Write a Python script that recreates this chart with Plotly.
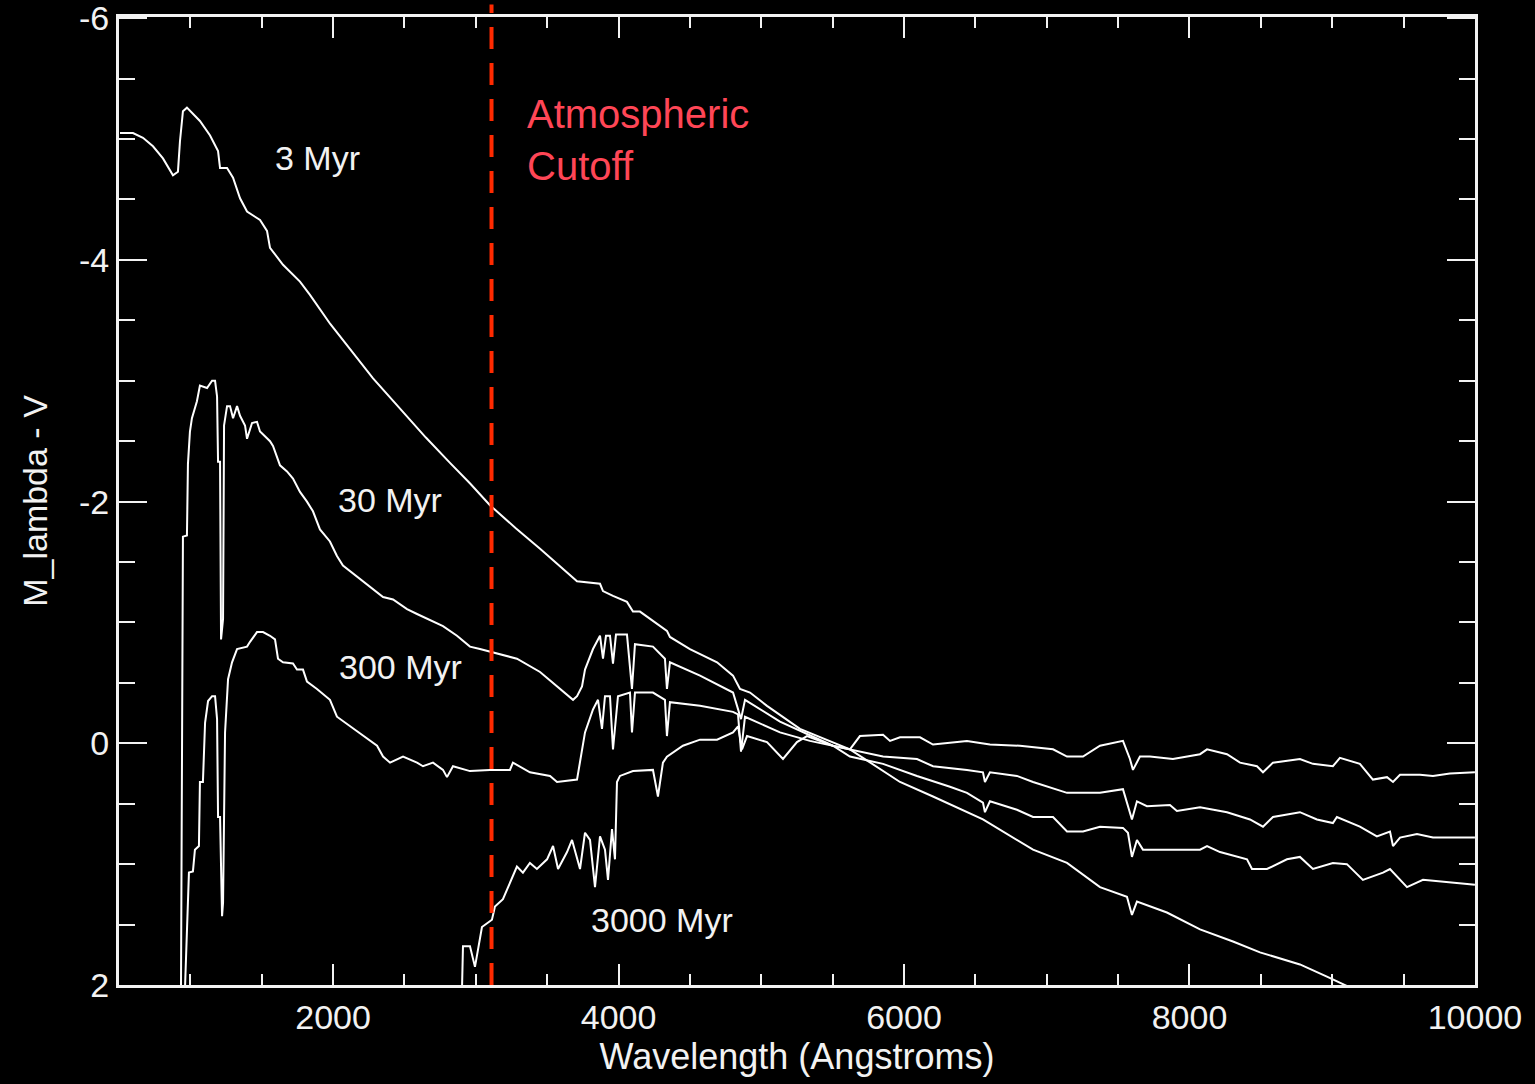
import plotly.graph_objects as go

# Wavelength grids (Angstroms) and M_lambda - V for each population age
wave_3myr = [507, 598, 668, 738, 808, 878, 913, 927, 948, 976, 1067, 1138, 1194, 1208, 1257,
             1299, 1348, 1397, 1488, 1537, 1558, 1579, 1649, 1768, 1838, 1980, 2118, 2280, 2469,
             2650, 2819, 2960, 3099, 3280, 3450, 3709, 3870, 3891, 3961, 4059, 4101, 4150, 4339,
             4360, 4500, 4690, 4802, 4851, 4921, 5040, 5271, 5460, 5621, 5972, 6203, 6553, 6904,
             7142, 7373, 7562, 7597, 7632, 7842, 8074, 8305, 8494, 8774, 8963, 9124]
mag_3myr = [-5.05, -5.05, -5.01, -4.94, -4.84, -4.70, -4.73, -4.98, -5.23, -5.26, -5.15, -5.03,
            -4.90, -4.76, -4.76, -4.68, -4.51, -4.40, -4.33, -4.24, -4.10, -4.07, -3.96, -3.82,
            -3.71, -3.47, -3.26, -3.02, -2.77, -2.53, -2.32, -2.15, -1.97, -1.78, -1.61, -1.34,
            -1.32, -1.26, -1.22, -1.17, -1.09, -1.09, -0.93, -0.88, -0.78, -0.67, -0.56, -0.45,
            -0.42, -0.31, -0.12, -0.03, 0.05, 0.32, 0.44, 0.63, 0.88, 0.99, 1.19, 1.27, 1.42,
            1.31, 1.40, 1.54, 1.64, 1.73, 1.83, 1.93, 2.02]

wave_30myr = [934, 941, 948, 976, 983, 997, 1011, 1046, 1067, 1117, 1152, 1173, 1187, 1194, 1208,
              1215, 1229, 1236, 1257, 1278, 1299, 1327, 1348, 1383, 1397, 1432, 1467, 1488, 1558,
              1579, 1628, 1677, 1719, 1768, 1817, 1859, 1908, 1978, 2027, 2069, 2188, 2280, 2350,
              2420, 2518, 2588, 2700, 2770, 2868, 2959, 3029, 3169, 3288, 3450, 3569, 3681, 3709,
              3744, 3765, 3821, 3870, 3891, 3912, 3940, 3961, 3982, 4059, 4094, 4115, 4241, 4325,
              4339, 4360, 4571, 4802, 4858, 4886, 5131, 5502, 5621, 5853, 6091, 6322, 6441, 6553,
              6567, 6602, 6791, 6904, 7044, 7142, 7254, 7373, 7534, 7569, 7597, 7632, 7674, 7842,
              8074, 8123, 8214, 8403, 8438, 8543, 8683, 8774, 8865, 9005, 9103, 9215, 9356, 9405,
              9524, 9636, 9846, 10000]
mag_30myr = [2.12, -0.36, -1.71, -1.72, -2.31, -2.58, -2.69, -2.83, -2.96, -2.94, -3.00, -3.00,
             -2.87, -2.33, -2.33, -0.86, -1.03, -2.63, -2.79, -2.79, -2.69, -2.79, -2.71, -2.63,
             -2.52, -2.65, -2.66, -2.58, -2.50, -2.46, -2.30, -2.25, -2.19, -2.08, -2.00, -1.92,
             -1.77, -1.67, -1.55, -1.47, -1.36, -1.28, -1.21, -1.19, -1.11, -1.07, -1.01, -0.97,
             -0.89, -0.80, -0.78, -0.74, -0.70, -0.59, -0.47, -0.36, -0.39, -0.47, -0.61, -0.78,
             -0.89, -0.70, -0.89, -0.89, -0.66, -0.90, -0.90, -0.45, -0.82, -0.80, -0.70, -0.45,
             -0.67, -0.56, -0.42, -0.20, -0.36, -0.18, 0.02, 0.11, 0.17, 0.27, 0.36, 0.41, 0.49,
             0.57, 0.48, 0.55, 0.61, 0.61, 0.73, 0.73, 0.69, 0.70, 0.74, 0.94, 0.80, 0.88, 0.88,
             0.88, 0.85, 0.90, 0.96, 1.04, 1.04, 0.96, 0.94, 1.04, 0.99, 1.00, 1.13, 1.07, 1.04,
             1.19, 1.13, 1.15, 1.17]

wave_300myr = [962, 969, 990, 1018, 1032, 1060, 1067, 1088, 1103, 1124, 1152, 1173, 1187, 1194,
               1208, 1222, 1229, 1243, 1264, 1292, 1327, 1397, 1418, 1467, 1509, 1558, 1593, 1614,
               1649, 1719, 1747, 1789, 1817, 1887, 1978, 2027, 2118, 2209, 2308, 2350, 2399, 2490,
               2588, 2630, 2700, 2770, 2798, 2840, 2959, 3099, 3239, 3260, 3379, 3520, 3569, 3709,
               3744, 3765, 3821, 3856, 3884, 3905, 3940, 3961, 3996, 4080, 4094, 4115, 4241, 4325,
               4339, 4360, 4571, 4802, 4837, 4858, 4886, 5131, 5341, 5502, 5621, 5853, 6091, 6203,
               6441, 6553, 6567, 6602, 6791, 6904, 7142, 7373, 7534, 7597, 7632, 7702, 7863, 7912,
               8074, 8263, 8424, 8515, 8585, 8683, 8774, 8893, 9005, 9033, 9194, 9313, 9405, 9426,
               9475, 9594, 9706, 10000]
mag_300myr = [2.04, 1.79, 1.07, 1.06, 0.88, 0.85, 0.32, 0.32, -0.17, -0.35, -0.39, -0.39, -0.20,
              0.61, 0.61, 1.43, 1.32, -0.09, -0.53, -0.67, -0.78, -0.80, -0.84, -0.92, -0.92,
              -0.89, -0.86, -0.70, -0.67, -0.66, -0.61, -0.61, -0.51, -0.45, -0.36, -0.22, -0.14,
              -0.06, 0.02, 0.11, 0.16, 0.11, 0.16, 0.19, 0.16, 0.22, 0.28, 0.19, 0.23, 0.22, 0.22,
              0.16, 0.24, 0.27, 0.32, 0.30, 0.05, -0.09, -0.28, -0.36, -0.12, -0.39, -0.39, 0.05,
              -0.39, -0.42, -0.09, -0.42, -0.42, -0.36, -0.06, -0.34, -0.31, -0.26, -0.24, 0.07,
              -0.22, -0.09, -0.02, 0.02, 0.05, 0.11, 0.13, 0.19, 0.22, 0.24, 0.32, 0.24, 0.27,
              0.32, 0.41, 0.41, 0.38, 0.63, 0.48, 0.52, 0.51, 0.56, 0.53, 0.57, 0.63, 0.69, 0.61,
              0.59, 0.57, 0.63, 0.66, 0.61, 0.69, 0.77, 0.73, 0.85, 0.78, 0.75, 0.78, 0.78]

wave_3000myr = [2903, 2910, 2959, 2994, 3015, 3043, 3113, 3134, 3190, 3239, 3288, 3330, 3379,
                3428, 3499, 3541, 3576, 3639, 3674, 3730, 3765, 3800, 3835, 3870, 3905, 3926,
                3954, 3975, 3989, 4010, 4101, 4241, 4276, 4311, 4339, 4451, 4571, 4690, 4802,
                4837, 4865, 4900, 5040, 5152, 5250, 5320, 5502, 5621, 5691, 5853, 5902, 5972,
                6112, 6203, 6441, 6602, 6812, 7044, 7142, 7254, 7373, 7534, 7583, 7604, 7653,
                7723, 7884, 8074, 8123, 8263, 8354, 8473, 8515, 8585, 8774, 8865, 9005, 9054,
                9194, 9285, 9384, 9426, 9475, 9615, 9706, 9825, 10000]
mag_3000myr = [2.04, 1.68, 1.68, 1.85, 1.71, 1.52, 1.46, 1.35, 1.29, 1.15, 1.02, 1.07, 0.99,
               1.04, 0.96, 0.85, 1.04, 0.90, 0.80, 1.04, 0.74, 0.80, 1.19, 0.77, 0.88, 1.13,
               0.71, 0.96, 0.32, 0.27, 0.23, 0.22, 0.44, 0.16, 0.11, 0.02, -0.03, -0.03, -0.09,
               -0.14, 0.05, -0.06, -0.01, 0.13, -0.01, -0.06, 0.02, 0.05, -0.06, -0.07, -0.02,
               -0.05, -0.05, 0.01, -0.02, 0.01, 0.02, 0.05, 0.11, 0.11, 0.02, -0.02, 0.13, 0.22,
               0.11, 0.11, 0.13, 0.09, 0.05, 0.09, 0.16, 0.19, 0.24, 0.16, 0.13, 0.17, 0.19, 0.12,
               0.17, 0.30, 0.28, 0.32, 0.26, 0.26, 0.27, 0.25, 0.24]

age_labels = ["3 Myr", "30 Myr", "300 Myr", "3000 Myr"]
label_wave = [1894, 2399, 2469, 4304]
label_mag = [-4.84, -2.01, -0.63, 1.46]

cutoff_wave = 3110
x_ticks = [2000, 4000, 6000, 8000, 10000]
x_tick_text = ["2000", "4000", "6000", "8000", "10000"]
y_ticks = [-6, -4, -2, 0, 2]
y_tick_text = ["-6", "-4", "-2", "0", "2"]

axis_font = "Liberation Sans, Arial, sans-serif"
fg = "#f2f2f2"

fig = go.Figure()
for w, m in [(wave_3myr, mag_3myr), (wave_30myr, mag_30myr),
             (wave_300myr, mag_300myr), (wave_3000myr, mag_3000myr)]:
    fig.add_trace(go.Scatter(x=w, y=m, mode="lines",
                             line=dict(color="white", width=2), hoverinfo="skip"))

for txt, xv, yv in zip(age_labels, label_wave, label_mag):
    fig.add_annotation(x=xv, y=yv, text=txt, showarrow=False,
                       font=dict(family=axis_font, size=34, color=fg))

# Atmospheric cutoff marker
fig.add_shape(type="line", xref="x", yref="paper", x0=cutoff_wave, x1=cutoff_wave,
              y0=0, y1=1.013, line=dict(color="#ff2a00", width=4, dash="22px,14px"))
fig.add_annotation(x=3345, y=-4.99, xanchor="left", yanchor="middle", align="left",
                   text="Atmospheric<br>Cutoff", showarrow=False,
                   font=dict(family="Liberation Sans, Arial, sans-serif", size=40,
                             color="#ff4656"))

fig.update_xaxes(range=[500, 10000.5], tickvals=x_ticks, ticktext=x_tick_text,
                 ticks="inside", ticklen=21, ticklabeloverflow="allow", automargin=False,
                 tickwidth=2, tickcolor=fg, showline=True, linecolor=fg, linewidth=3,
                 mirror="ticks", showgrid=False, zeroline=False,
                 minor=dict(dtick=500, ticks="inside", ticklen=11, tickwidth=2,
                            tickcolor=fg, showgrid=False),
                 tickfont=dict(family=axis_font, size=34, color=fg),
                 title=dict(text="Wavelength (Angstroms)", standoff=4,
                            font=dict(family=axis_font, size=36, color=fg)))
fig.update_yaxes(range=[2, -6.01], tickvals=y_ticks, ticktext=y_tick_text, ticks="inside",
                 ticklen=28, tickwidth=2, tickcolor=fg, showline=True, linecolor=fg,
                 linewidth=3, mirror="ticks", showgrid=False, zeroline=False,
                 ticklabeloverflow="allow", automargin=False,
                 minor=dict(dtick=0.5, ticks="inside", ticklen=16, tickwidth=2,
                            tickcolor=fg, showgrid=False),
                 tickfont=dict(family=axis_font, size=34, color=fg),
                 title=dict(text="M_lambda - V", standoff=22,
                            font=dict(family=axis_font, size=34, color=fg)))

fig.update_layout(width=1535, height=1084, paper_bgcolor="black", plot_bgcolor="black",
                  showlegend=False, margin=dict(l=119, r=60, t=17, b=99))

fig.write_html("out.html")
